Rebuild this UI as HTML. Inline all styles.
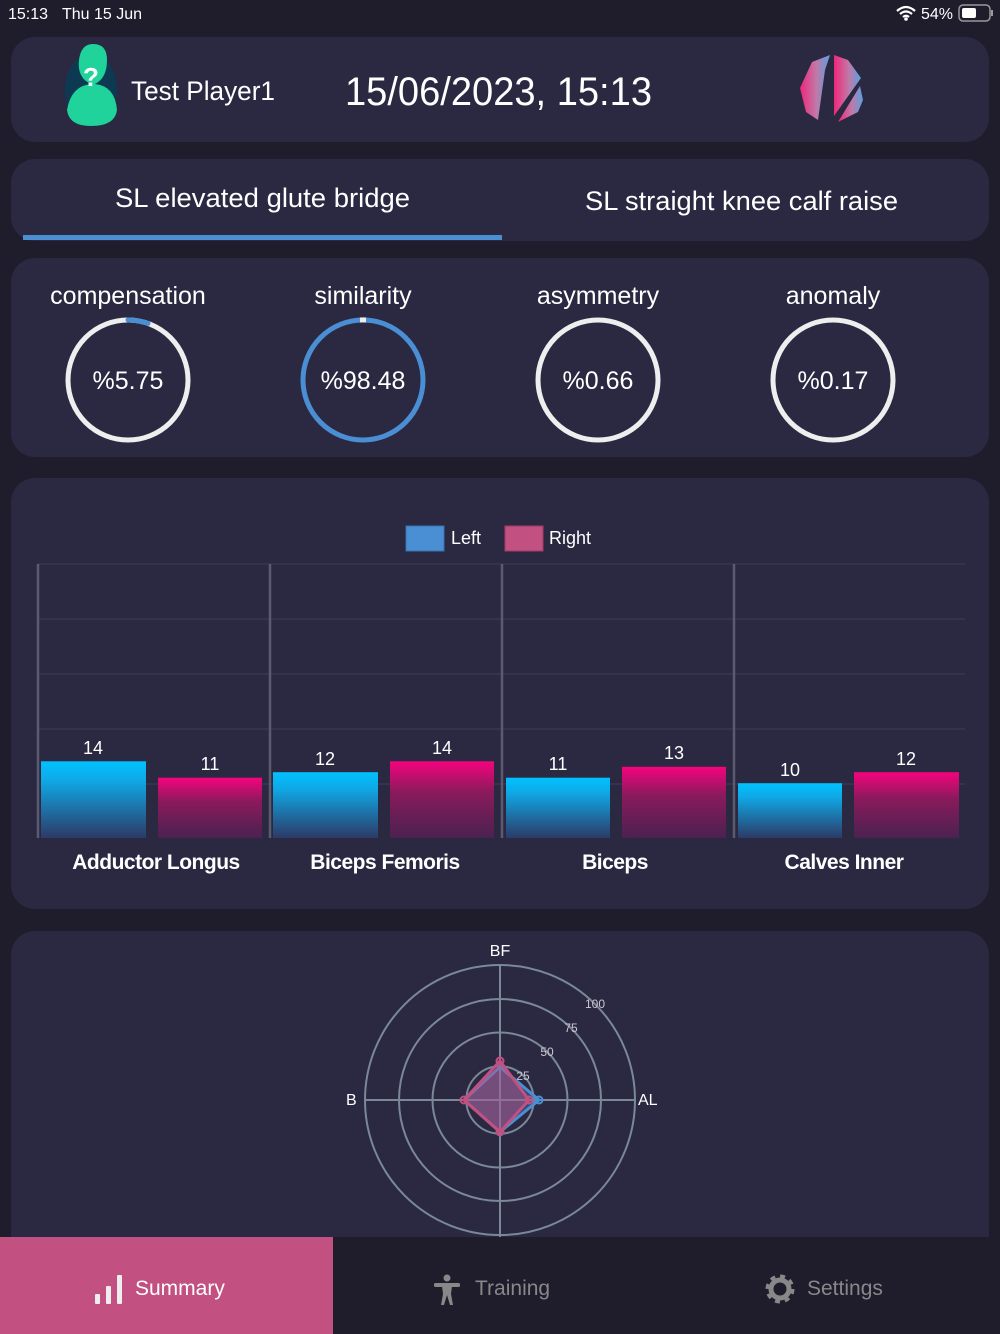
<!DOCTYPE html>
<html><head><meta charset="utf-8"><style>
html,body{margin:0;padding:0;background:#1f1c2c;}
svg{display:block;font-family:"Liberation Sans",sans-serif;}
</style></head><body>
<svg width="1000" height="1334" viewBox="0 0 1000 1334" xmlns="http://www.w3.org/2000/svg">
<defs>
<linearGradient id="gl" x1="0" y1="0" x2="0" y2="1"><stop offset="0" stop-color="#00c2ff"/><stop offset="0.25" stop-color="#0fa8e6"/><stop offset="1" stop-color="#2c3a66"/></linearGradient>
<linearGradient id="gr" x1="0" y1="0" x2="0" y2="1"><stop offset="0" stop-color="#f5037e"/><stop offset="0.4" stop-color="#8a1a5c"/><stop offset="1" stop-color="#4a2250"/></linearGradient>
<linearGradient id="logo" x1="0" y1="0" x2="1" y2="0"><stop offset="0" stop-color="#f0267a"/><stop offset="0.55" stop-color="#c07aa8"/><stop offset="1" stop-color="#5aa0e0"/></linearGradient>
</defs>
<rect width="1000" height="1334" fill="#1f1c2c"/>
<text x="8" y="19" font-size="16" fill="#fff">15:13</text>
<text x="62" y="19" font-size="16" fill="#fff">Thu 15 Jun</text>
<path d="M897 11 q9-8 18 0 M900 14 q6-5 12 0 M903 17 q3-2.5 6 0" stroke="#fff" stroke-width="2.2" fill="none"/>
<circle cx="906" cy="19" r="1.8" fill="#fff"/>
<text x="921" y="19" font-size="16" fill="#fff">54%</text>
<rect x="959" y="5" width="31" height="16" rx="4" fill="none" stroke="#999" stroke-width="1.5"/>
<rect x="962" y="8" width="14" height="10" rx="2" fill="#fff"/>
<rect x="991" y="10" width="2" height="6" fill="#999"/>

<rect x="11" y="37" width="978" height="105" rx="24" fill="#2b2842"/>
<ellipse cx="91" cy="90" rx="26" ry="36" fill="#0d3a52"/>
<path d="M67 110 q4-24 24-26 q-14-6-12-24 q2-16 14-16 q14 0 14 16 q0 18-12 24 q20 2 22 26 q-2 16-26 16 q-22 0-24-16z" fill="#1fd39a"/>
<text x="91" y="86" font-size="26" font-weight="bold" fill="#fff" text-anchor="middle">?</text>
<text x="131" y="100" font-size="27" fill="#fff" textLength="144" lengthAdjust="spacingAndGlyphs">Test Player1</text>
<text x="345" y="105" font-size="40" fill="#fff" textLength="307" lengthAdjust="spacingAndGlyphs">15/06/2023, 15:13</text>
<path d="M812 62 L830 55 L825 70 L818 120 L806 112 L800 88 Z" fill="url(#logo)"/>
<path d="M834 55 L848 60 L861 78 L834 116 Z" fill="url(#logo)"/>
<path d="M860 86 L863 100 L858 112 L838 122 Z" fill="url(#logo)"/>

<rect x="11" y="159" width="978" height="82" rx="24" fill="#2b2842"/>
<text x="115" y="207" font-size="27" fill="#fff" textLength="295" lengthAdjust="spacingAndGlyphs">SL elevated glute bridge</text>
<text x="585" y="210" font-size="27" fill="#fff" textLength="313" lengthAdjust="spacingAndGlyphs">SL straight knee calf raise</text>
<rect x="23" y="235" width="479" height="5" fill="#4a8fd4"/>

<rect x="11" y="258" width="978" height="199" rx="24" fill="#2b2842"/>
<g font-size="25" fill="#fff" text-anchor="middle">
<text x="128" y="304">compensation</text>
<text x="363" y="304">similarity</text>
<text x="598" y="304">asymmetry</text>
<text x="833" y="304">anomaly</text>
<text x="128" y="389">%5.75</text>
<text x="363" y="389">%98.48</text>
<text x="598" y="389">%0.66</text>
<text x="833" y="389">%0.17</text>
</g>
<g fill="none" stroke-width="5">
<circle cx="128" cy="380" r="60" stroke="#eeeeee"/>
<path d="M128 320 A60 60 0 0 1 148 323.4" stroke="#4a8fd4" stroke-linecap="round"/>
<circle cx="363" cy="380" r="60" stroke="#4a8fd4"/>
<path d="M360 320 A60 60 0 0 1 366 320" stroke="#eeeeee"/>
<circle cx="598" cy="380" r="60" stroke="#eeeeee"/>
<circle cx="833" cy="380" r="60" stroke="#eeeeee"/>
</g>

<rect x="11" y="478" width="978" height="431" rx="24" fill="#2b2842"/>
<rect x="406" y="526" width="38" height="25" fill="#4a8fd4" stroke="#3a70b0"/>
<text x="451" y="544" font-size="18" fill="#fff">Left</text>
<rect x="505" y="526" width="38" height="25" fill="#c25080" stroke="#a03d68"/>
<text x="549" y="544" font-size="18" fill="#fff">Right</text>
<g stroke="#38354f" stroke-width="1.5">
<line x1="38" y1="564" x2="965" y2="564"/><line x1="38" y1="619" x2="965" y2="619"/><line x1="38" y1="674" x2="965" y2="674"/><line x1="38" y1="729" x2="965" y2="729"/><line x1="38" y1="784" x2="965" y2="784"/>
</g>
<g stroke="#5c5a6e" stroke-width="2.5">
<line x1="38" y1="564" x2="38" y2="838"/><line x1="270" y1="564" x2="270" y2="838"/><line x1="502" y1="564" x2="502" y2="838"/><line x1="734" y1="564" x2="734" y2="838"/>
</g>
<g>
<rect x="41" y="761.3" width="105" height="76.7" fill="url(#gl)"/>
<rect x="158" y="777.7" width="104" height="60.3" fill="url(#gr)"/>
<rect x="273" y="772.2" width="105" height="65.8" fill="url(#gl)"/>
<rect x="390" y="761.3" width="104" height="76.7" fill="url(#gr)"/>
<rect x="506" y="777.7" width="104" height="60.3" fill="url(#gl)"/>
<rect x="622" y="766.8" width="104" height="71.2" fill="url(#gr)"/>
<rect x="738" y="783.2" width="104" height="54.8" fill="url(#gl)"/>
<rect x="854" y="772.2" width="105" height="65.8" fill="url(#gr)"/>
</g>
<g font-size="18" fill="#fff" text-anchor="middle">
<text x="93" y="754">14</text><text x="210" y="770">11</text>
<text x="325" y="765">12</text><text x="442" y="754">14</text>
<text x="558" y="770">11</text><text x="674" y="759">13</text>
<text x="790" y="776">10</text><text x="906" y="765">12</text>
</g>
<g font-size="21" font-weight="bold" fill="#fff" text-anchor="middle" letter-spacing="-0.5">
<text x="156" y="869">Adductor Longus</text>
<text x="385" y="869">Biceps Femoris</text>
<text x="615" y="869">Biceps</text>
<text x="844" y="869">Calves Inner</text>
</g>

<rect x="11" y="931" width="978" height="330" rx="24" fill="#2b2842"/>
<g fill="none" stroke="#7a8898" stroke-width="2">
<circle cx="500" cy="1100" r="33.7"/><circle cx="500" cy="1100" r="67.5"/><circle cx="500" cy="1100" r="101"/><circle cx="500" cy="1100" r="135"/>
<line x1="500" y1="965" x2="500" y2="1237"/><line x1="365" y1="1100" x2="635" y2="1100"/>
</g>
<g font-size="12" fill="#c8c8d0" text-anchor="middle">
<text x="523" y="1080">25</text><text x="547" y="1056">50</text><text x="571" y="1032">75</text><text x="595" y="1008">100</text>
</g>
<g font-size="16" fill="#fff">
<text x="500" y="956" text-anchor="middle">BF</text>
<text x="638" y="1105">AL</text>
<text x="346" y="1105">B</text>
</g>
<polygon points="500,1067 539,1100 500,1132 464,1100" fill="rgba(74,143,212,0.35)" stroke="#4a8fd4" stroke-width="3"/>
<polygon points="500,1061 529,1100 500,1132 464,1100" fill="rgba(194,80,128,0.45)" stroke="#c25080" stroke-width="3"/>
<g fill="none" stroke-width="2">
<circle cx="539" cy="1100" r="3.5" stroke="#4a8fd4"/>
<circle cx="500" cy="1061" r="3.5" stroke="#c25080"/><circle cx="529" cy="1100" r="3.5" stroke="#c25080"/>
<circle cx="500" cy="1132" r="3.5" stroke="#c25080"/><circle cx="464" cy="1100" r="3.5" stroke="#c25080"/>
</g>

<rect x="0" y="1237" width="1000" height="97" fill="#1f1c2c"/>
<rect x="0" y="1237" width="333" height="97" fill="#c25080"/>
<g fill="#eeeeee">
<rect x="95" y="1294" width="5" height="10" rx="1"/><rect x="106" y="1286" width="5" height="18" rx="1"/><rect x="117" y="1275" width="5" height="29" rx="1"/>
</g>
<text x="135" y="1295" font-size="21" fill="#fff">Summary</text>
<g fill="#888">
<circle cx="447" cy="1278" r="3.5"/>
<rect x="434" y="1283" width="26" height="4" rx="1.5"/>
<path d="M442 1286 h10 l-1 8 l2 11 h-3 l-3-10 l-3 10 h-3 l2-11z"/>
</g>
<text x="475" y="1295" font-size="21" fill="#888">Training</text>
<circle cx="780" cy="1289" r="11" fill="none" stroke="#888" stroke-width="7" stroke-dasharray="4.3 4.3"/>
<circle cx="780" cy="1289" r="9" fill="none" stroke="#888" stroke-width="5"/>
<text x="807" y="1295" font-size="21" fill="#888">Settings</text>
</svg>
</body></html>
